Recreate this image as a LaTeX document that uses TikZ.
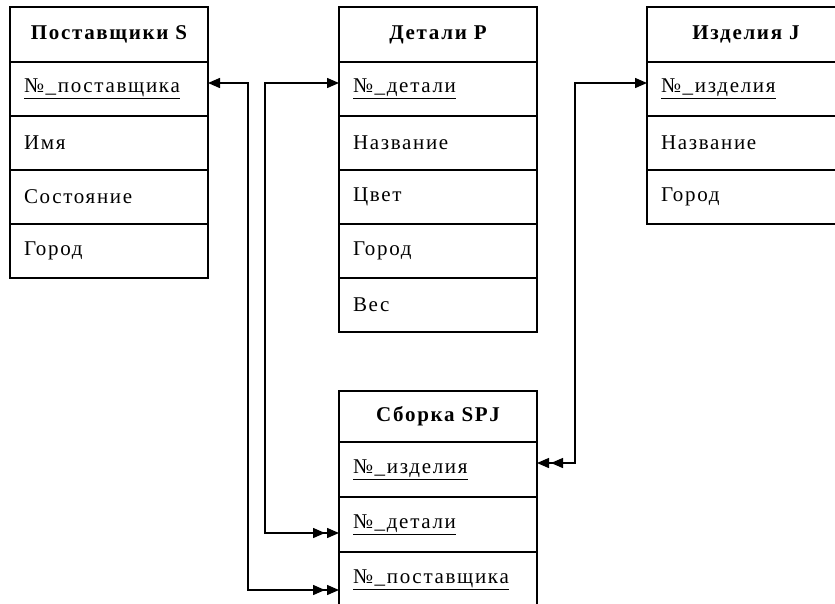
\documentclass[tikz,border=0pt]{standalone}
\usepackage{fontspec}
\setmainfont{Liberation Serif}[LetterSpace=8]
\usetikzlibrary{arrows.meta}
\begin{document}
\begin{tikzpicture}[x=1pt,y=-1pt,
  tab/.style={draw, line width=1.4pt, anchor=north west, minimum width=198pt, minimum height=54pt, inner sep=0pt, outer sep=0pt},
  hd/.style={tab, minimum height=55pt, font=\bfseries\fontsize{21}{24}\selectfont},
  fd/.style={tab, text width=170pt, align=left, inner xsep=14pt, font=\fontsize{21}{24}\selectfont},
  sepline/.style={line width=2.6pt},
  conn/.style={line width=1.4pt},
  tip/.tip={Triangle[length=12pt,width=10pt]},
  dtip/.tip={Triangle[length=12pt,width=10pt,sep=2pt]Triangle[length=12pt,width=10pt]}
]
\path[use as bounding box, clip] (0,0) rectangle (835,603);
\fill[white] (0,0) rectangle (835,603);
% Suppliers S
\node[hd] (S0) at (10,7) {Поставщики S};
\node[fd] (S1) at (10,62) {\underline{№\_поставщика}};
\node[fd] (S2) at (10,116) {Имя};
\node[fd] (S3) at (10,170) {Состояние};
\node[fd] (S4) at (10,224) {Город};
% Parts P
\node[hd] (P0) at (339,7) {Детали P};
\node[fd] (P1) at (339,62) {\underline{№\_детали}};
\node[fd] (P2) at (339,116) {Название};
\node[fd] (P3) at (339,170) {Цвет};
\node[fd] (P4) at (339,224) {Город};
\node[fd] (P5) at (339,278) {Вес};
% Products J
\node[hd] (J0) at (647,7) {Изделия J};
\node[fd] (J1) at (647,62) {\underline{№\_изделия}};
\node[fd] (J2) at (647,116) {Название};
\node[fd] (J3) at (647,170) {Город};
% SPJ
\node[hd, minimum height=51pt] (Q0) at (339,391) {Сборка SPJ};
\node[fd, minimum height=55pt] (Q1) at (339,442) {\underline{№\_изделия}};
\node[fd, minimum height=55pt] (Q2) at (339,497) {\underline{№\_детали}};
\node[fd, minimum height=55pt] (Q3) at (339,552) {\underline{№\_поставщика}};
% separators between fields
\foreach \n in {S1,S2,S3,P1,P2,P3,P4,J1,J2,Q1,Q2} {
  \draw[sepline] (\n.south west) -- (\n.south east);
}
% connector guides
\coordinate (xs) at (248,83);
\coordinate (xp) at (265,83);
\coordinate (xj) at (575,83);
\coordinate (ys) at (0,590);
\coordinate (yp) at (0,533);
\coordinate (yj) at (0,463);
\draw[conn, {tip}-{dtip}] (S1.east |- xs) -- (xs) |- (Q3.west |- ys);
\draw[conn, {dtip}-{tip}] (Q2.west |- yp) -| (xp) -- (P1.west |- xp);
\draw[conn, {dtip}-{tip}] (Q1.east |- yj) -| (xj) -- (J1.west |- xj);
\end{tikzpicture}
\end{document}
